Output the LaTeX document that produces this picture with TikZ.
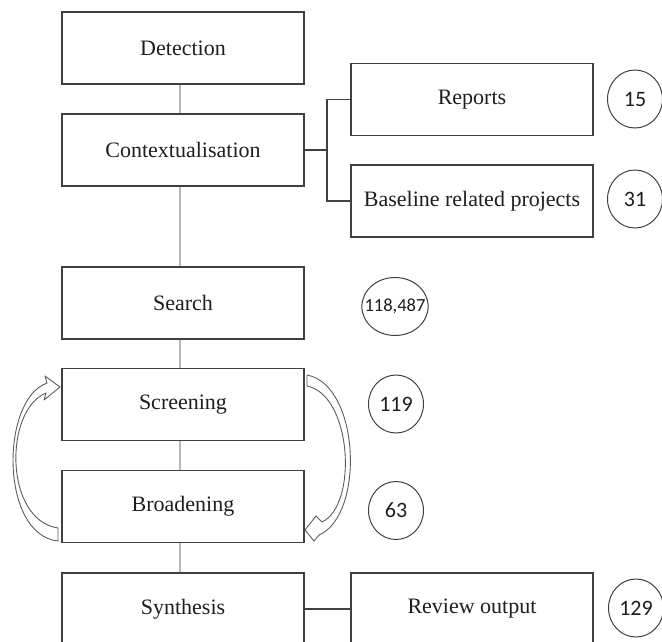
\documentclass[tikz,border=0pt]{standalone}
\usepackage{fontspec}
\setmainfont{Liberation Serif}
\newfontfamily\numfont{Carlito}
\usetikzlibrary{shapes.geometric}
\definecolor{edge}{HTML}{404040}
\definecolor{link}{HTML}{B8B8B8}
\definecolor{ink}{HTML}{1E1E1E}
\tikzset{
  stage/.style={draw=edge, line width=1.1pt, fill=white, minimum width=242pt,
    minimum height=72pt, inner sep=0pt, text=ink,
    font=\fontsize{22}{26}\selectfont},
  count/.style={draw=edge, line width=1pt, ellipse, minimum width=55pt,
    minimum height=58pt, inner sep=0pt, text=ink,
    font=\numfont\fontsize{22}{26}\selectfont},
  flowline/.style={draw=link, line width=1.8pt},
  bracket/.style={draw=edge, line width=1.1pt},
  loop/.style={draw=edge!85, line width=0.9pt, fill=white, line join=round}
}
\begin{document}
\begin{tikzpicture}[x=1pt, y=-1pt]
  \useasboundingbox (0,0) rectangle (662,641);
  \clip (0,0) rectangle (662,641);

  % main stages
  \node[stage] (det) at (183,48) {Detection};
  \node[stage] (ctx) at (183,150) {Contextualisation};
  \node[stage] (sea) at (183,303) {Search};
  \node[stage] (scr) at (183,404.5) {Screening};
  \node[stage] (bro) at (183,506.5) {Broadening};
  \node[stage] (syn) at (183,609) {Synthesis};

  % side outputs
  \node[stage] (rep) at (472,99.5) {Reports};
  \node[stage] (bas) at (472,201) {Baseline related projects};
  \node[stage] (rev) at (472,609) {Review output};

  % counts
  \node[count] (c15) at (635,99) {15};
  \node[count] (c31) at (635,199) {31};
  \node[count, minimum width=63pt, minimum height=58pt, inner xsep=-7pt,
        font=\numfont\fontsize{18.5}{22}\selectfont] (c118) at (395,306.5) {118,487};
  \node[count] (c119) at (396,404) {119};
  \node[count] (c63) at (396,510.5) {63};
  \node[count] (c129) at (636,608) {129};

  % vertical flow
  \foreach \a/\b in {det/ctx, ctx/sea, sea/scr, scr/bro, bro/syn}
    \draw[flowline] ([xshift=-3pt]\a.south) -- ([xshift=-3pt]\b.north);

  % branch to the contextual sources
  \coordinate (br) at (327,150);
  \draw[bracket] (ctx.east) -- (br);
  \draw[bracket] (rep.west) -| (br);
  \draw[bracket] (bas.west) -| (br);
  \draw[bracket] (syn.east |- rev.west) -- (rev.west);

  % iteration arrows between screening and broadening
  \draw[loop] (58,541) .. controls (0,535) and (0,400) .. (47,383)
    -- (45,376) -- (60,387) -- (44,400) -- (46,393)
    .. controls (4,410) and (4,520) .. (58,528) -- cycle;
  \draw[loop] (307,375) .. controls (360,385) and (365,515) .. (319,535)
    -- (314,541) -- (305,530) -- (316,516) -- (322,522)
    .. controls (358,505) and (352,395) .. (307,386) -- cycle;
\end{tikzpicture}
\end{document}
